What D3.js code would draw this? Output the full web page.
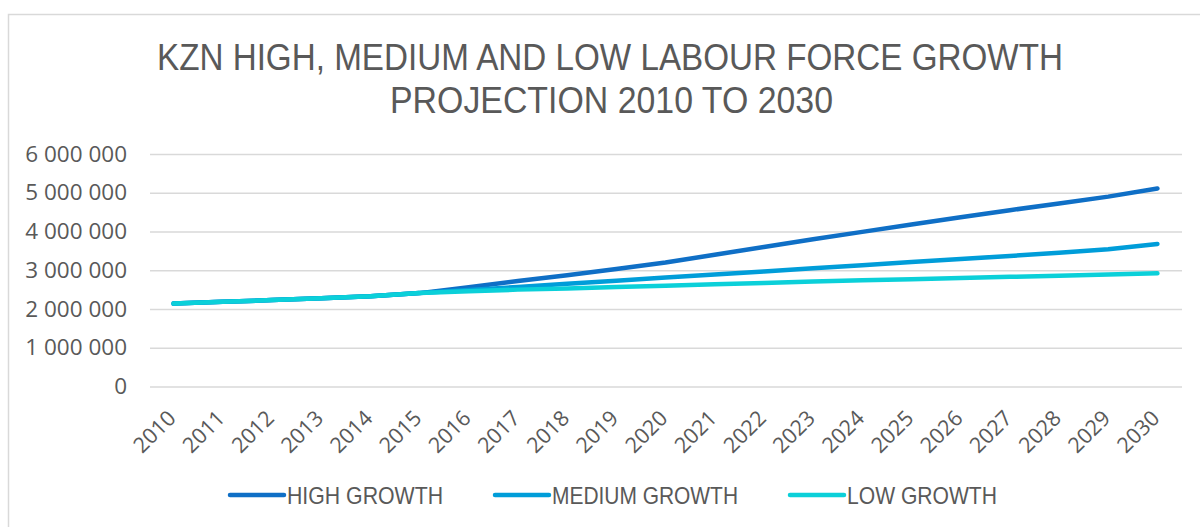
<!DOCTYPE html>
<html>
<head>
<meta charset="utf-8">
<script src="https://cdn.jsdelivr.net/npm/d3@7"></script>
<style>
  html, body { margin: 0; padding: 0; background: #ffffff; }
  svg { display: block; }
</style>
</head>
<body>
<svg id="chart" width="1200" height="527"></svg>
<script>
// KZN labour force projections, 2010 to 2030 (persons)
const years = ["2010","2011","2012","2013","2014","2015","2016","2017","2018","2019","2020",
               "2021","2022","2023","2024","2025","2026","2027","2028","2029","2030"];
const highGrowth   = [2140000,2185000,2230000,2280000,2330000,2410000,2560000,2720000,2870000,3030000,3200000,
                      3400000,3600000,3800000,3990000,4180000,4370000,4550000,4720000,4900000,5110000];
const mediumGrowth = [2140000,2185000,2230000,2280000,2330000,2410000,2490000,2570000,2650000,2730000,2810000,
                      2890000,2970000,3050000,3130000,3210000,3290000,3370000,3450000,3540000,3680000];
const lowGrowth    = [2140000,2185000,2230000,2280000,2330000,2410000,2460000,2500000,2530000,2570000,2600000,
                      2640000,2670000,2710000,2740000,2770000,2800000,2830000,2860000,2890000,2920000];
const yTicks = [0, 1000000, 2000000, 3000000, 4000000, 5000000, 6000000];
const seriesNames = ["HIGH GROWTH", "MEDIUM GROWTH", "LOW GROWTH"];
const seriesColors = ["#0F6FC6", "#009DD9", "#0BD0D9"];

const series = [
  { name: seriesNames[0], values: highGrowth,   color: seriesColors[0] },
  { name: seriesNames[1], values: mediumGrowth, color: seriesColors[1] },
  { name: seriesNames[2], values: lowGrowth,    color: seriesColors[2] }
];

const svg = d3.select("#chart");
const textColor = "#595959";
const gridColor = "#d9d9d9";

// chart frame
svg.append("rect")
  .attr("x", 8.5).attr("y", 14.5)
  .attr("width", 1210).attr("height", 530)
  .attr("fill", "#ffffff")
  .attr("stroke", gridColor).attr("stroke-width", 1.5);

const plot = { left: 150, right: 1182, top: 154, bottom: 386.5 };

const x = d3.scalePoint().domain(years).range([plot.left - 1, plot.right]).padding(0.5);
const y = d3.scaleLinear().domain([0, 6000000]).range([plot.bottom, plot.top]);

// title
const title = svg.append("g")
  .attr("font-family", "'Liberation Sans Narrow', 'Liberation Sans', Arial, sans-serif")
  .attr("fill", textColor)
  .attr("font-size", 37);
title.append("text")
  .attr("x", 157).attr("y", 70)
  .attr("textLength", 906).attr("lengthAdjust", "spacingAndGlyphs")
  .text("KZN HIGH, MEDIUM AND LOW LABOUR FORCE GROWTH");
title.append("text")
  .attr("x", 390).attr("y", 113)
  .attr("textLength", 443).attr("lengthAdjust", "spacingAndGlyphs")
  .text("PROJECTION 2010 TO 2030");

// horizontal gridlines and y labels
const yAxis = d3.axisLeft(y)
  .tickValues(yTicks)
  .tickSize(-(plot.right - plot.left))
  .tickPadding(23)
  .tickFormat(d => d3.format(",")(d).replace(/,/g, " "));

const yG = svg.append("g")
  .attr("transform", `translate(${plot.left},0)`)
  .call(yAxis);
yG.select(".domain").remove();
yG.selectAll(".tick line").attr("stroke", gridColor).attr("stroke-width", 1.5);
yG.selectAll(".tick text")
  .attr("fill", textColor)
  .attr("font-family", "'Open Sans', sans-serif")
  .attr("font-size", 22.5);

// x axis labels, rotated
const xAxis = d3.axisBottom(x).tickSize(0).tickPadding(0);
const xG = svg.append("g")
  .attr("transform", `translate(0,${plot.bottom})`)
  .call(xAxis);
xG.select(".domain").remove();
xG.selectAll(".tick text")
  .attr("fill", textColor)
  .attr("font-family", "'Open Sans', sans-serif")
  .attr("font-size", 21.5)
  .attr("text-anchor", "end")
  .attr("dy", 0)
  .attr("y", 0)
  .attr("transform", "translate(3,33) rotate(-45)");

// series lines
const line = d3.line()
  .x((d, i) => x(years[i]))
  .y(d => y(d));

svg.append("g").selectAll("path")
  .data(series)
  .join("path")
  .attr("d", s => line(s.values))
  .attr("fill", "none")
  .attr("stroke", s => s.color)
  .attr("stroke-width", 4.5)
  .attr("stroke-linecap", "round")
  .attr("stroke-linejoin", "round");

// legend
const legendItems = [
  { x0: 230, textWidth: 156 },
  { x0: 495, textWidth: 186 },
  { x0: 790, textWidth: 150 }
];
const legend = svg.append("g");
series.forEach((s, i) => {
  const item = legendItems[i];
  legend.append("line")
    .attr("x1", item.x0).attr("x2", item.x0 + 54)
    .attr("y1", 495).attr("y2", 495)
    .attr("stroke", s.color).attr("stroke-width", 4.5)
    .attr("stroke-linecap", "round");
  legend.append("text")
    .attr("x", item.x0 + 57).attr("y", 504)
    .attr("font-family", "'Liberation Sans Narrow', 'Liberation Sans', Arial, sans-serif")
    .attr("font-size", 24)
    .attr("fill", textColor)
    .attr("textLength", item.textWidth).attr("lengthAdjust", "spacingAndGlyphs")
    .text(s.name);
});
</script>
</body>
</html>
